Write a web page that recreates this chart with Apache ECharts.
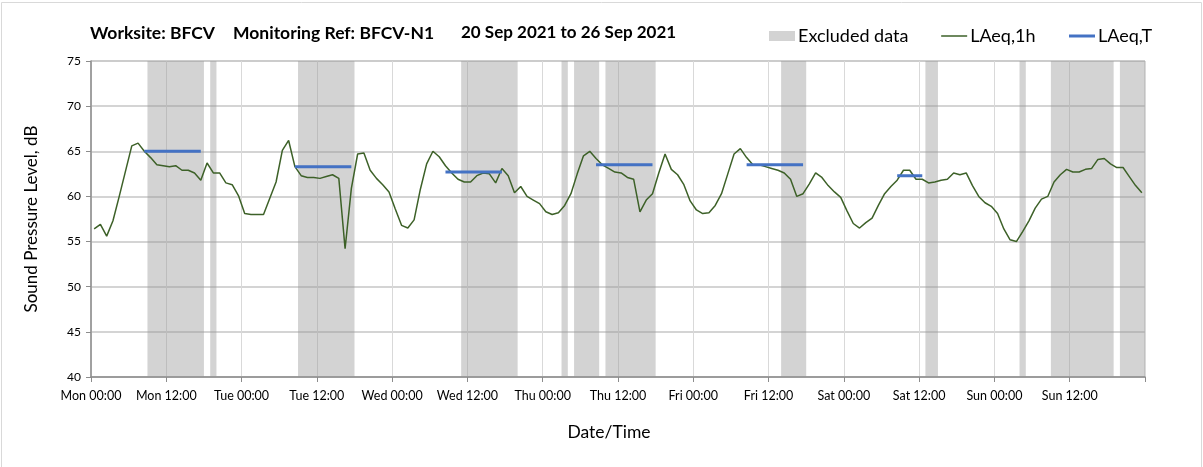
<!DOCTYPE html>
<html>
<head>
<meta charset="utf-8">
<script src="https://cdn.jsdelivr.net/npm/echarts@6/dist/echarts.min.js"></script>
<style>
  html, body { margin: 0; padding: 0; background: #fff; }
  #chart { width: 1203px; height: 467px; }
</style>
</head>
<body>
<div id="chart"></div>
<script>
// hour-of-week tick labels (every 12 h from Mon 00:00)
const tickLabels = ['Mon 00:00', 'Mon 12:00', 'Tue 00:00', 'Tue 12:00', 'Wed 00:00', 'Wed 12:00',
  'Thu 00:00', 'Thu 12:00', 'Fri 00:00', 'Fri 12:00', 'Sat 00:00', 'Sat 12:00', 'Sun 00:00', 'Sun 12:00']

// hourly LAeq,1h, one value per hour from Mon 00:00 (168 values)
const laeq1h = [
  56.4, 56.9, 55.6, 57.3, 60.0, 62.8, 65.6, 65.9, 65.0, 64.3, 63.5, 63.4,
  63.3, 63.4, 62.9, 62.9, 62.6, 61.8, 63.7, 62.6, 62.6, 61.5, 61.3, 60.1,
  58.1, 58.0, 58.0, 58.0, 59.8, 61.6, 65.1, 66.2, 63.3, 62.3, 62.1, 62.1,
  62.0, 62.2, 62.4, 62.0, 54.2, 60.9, 64.7, 64.8, 62.9, 62.0, 61.3, 60.5,
  58.6, 56.8, 56.5, 57.4, 60.8, 63.6, 65.0, 64.4, 63.4, 62.6, 61.9, 61.6,
  61.6, 62.3, 62.6, 62.5, 61.5, 63.1, 62.3, 60.4, 61.1, 60.0, 59.6, 59.2,
  58.3, 58.0, 58.2, 59.0, 60.3, 62.5, 64.5, 65.0, 64.2, 63.5, 63.1, 62.7,
  62.6, 62.1, 61.9, 58.3, 59.6, 60.3, 62.6, 64.7, 63.0, 62.4, 61.3, 59.5,
  58.5, 58.1, 58.2, 59.0, 60.3, 62.5, 64.7, 65.3, 64.3, 63.5, 63.5, 63.3,
  63.1, 62.9, 62.6, 61.9, 60.0, 60.3, 61.4, 62.6, 62.1, 61.2, 60.5, 59.9,
  58.4, 57.0, 56.5, 57.1, 57.6, 59.0, 60.3, 61.1, 61.8, 62.9, 62.9, 61.9,
  61.9, 61.5, 61.6, 61.8, 61.9, 62.6, 62.4, 62.6, 61.2, 60.0, 59.3, 58.9,
  58.1, 56.4, 55.2, 55.0, 56.1, 57.3, 58.7, 59.7, 60.0, 61.6, 62.4, 63.0,
  62.7, 62.7, 63.0, 63.1, 64.1, 64.2, 63.6, 63.2, 63.2, 62.2, 61.2, 60.4
]

// LAeq,T daytime periods (hour of week) and levels
const periodFrom = [8, 32, 56, 80, 104, 128]
const periodTo = [18, 42, 66, 90, 114, 133]
const periodLevel = [65.0, 63.3, 62.7, 63.5, 63.5, 62.3]

// excluded data periods (hour of week)
const exclFrom = [9, 19, 33, 59, 75, 77, 82, 110, 133, 148, 153, 164]
const exclTo = [18, 20, 42, 68, 76, 81, 90, 114, 135, 149, 163, 168]

const font = 'Lato, "Open Sans", sans-serif'
const titleStyle = { fontSize: 17.5, fontWeight: 'bold', color: '#000', fontFamily: font }

const hourlyData = laeq1h.map((v, i) => [i + 0.5, v])
const periodData = []
periodFrom.forEach((f, i) => {
  periodData.push([f + 0.5, periodLevel[i]])
  periodData.push([periodTo[i] - 0.5, periodLevel[i]])
  periodData.push([periodTo[i], '-'])
})
const exclData = exclFrom.map((f, i) => [f, exclTo[i]])

const chart = echarts.init(document.getElementById('chart'))
chart.setOption({
  animation: false,
  textStyle: { fontFamily: font },
  graphic: [{
    type: 'rect',
    shape: { x: 1.5, y: 2.5, width: 1200, height: 470 },
    style: { fill: 'none', stroke: '#d9d9d9', lineWidth: 1 },
    silent: true
  }],
  title: [
    { text: 'Worksite: BFCV', left: 90, top: 24, padding: 0, textStyle: titleStyle },
    { text: 'Monitoring Ref: BFCV-N1', left: 233, top: 24, padding: 0, textStyle: titleStyle },
    { text: '20 Sep 2021 to 26 Sep 2021', left: 461, top: 24, padding: 0, textStyle: Object.assign({}, titleStyle, { fontSize: 17 }) }
  ],
  legend: {
    left: 769,
    top: 27,
    padding: 0,
    itemWidth: 26,
    itemHeight: 10,
    itemGap: 32,
    textStyle: { fontSize: 18, color: '#000', fontFamily: font, padding: [0, 0, 0, -2] },
    data: [
      { name: 'Excluded data', icon: 'rect', itemStyle: { color: '#d3d3d3' } },
      { name: 'LAeq,1h', itemStyle: { opacity: 0 }, lineStyle: { width: 1.5, color: '#3d6128' } },
      { name: 'LAeq,T', itemStyle: { opacity: 0 }, lineStyle: { width: 3, color: '#4472c4' } }
    ]
  },
  grid: { left: 91, right: 58, top: 61, bottom: 90, show: true, borderColor: '#c0c0c0', borderWidth: 1 },
  xAxis: {
    type: 'value',
    min: 0,
    max: 168,
    interval: 12,
    name: 'Date/Time',
    nameLocation: 'middle',
    nameGap: 46,
    nameTextStyle: { fontSize: 17.5, color: '#000', fontFamily: font, padding: [0, 18, 0, 0] },
    axisLine: { lineStyle: { color: '#8c8c8c', width: 1.5 } },
    axisTick: { show: true, length: 5, lineStyle: { color: '#8c8c8c' } },
    axisLabel: {
      fontSize: 12.5,
      color: '#000',
      margin: 12,
      formatter: v => tickLabels[Math.round(v / 12)] || ''
    },
    splitLine: { show: true, lineStyle: { color: '#d9d9d9', width: 1 } }
  },
  yAxis: {
    type: 'value',
    min: 40,
    max: 75,
    interval: 5,
    name: 'Sound Pressure Level, dB',
    nameLocation: 'middle',
    nameGap: 51,
    nameRotate: 90,
    nameTextStyle: { fontSize: 17, color: '#000', fontFamily: font },
    axisLine: { show: true, lineStyle: { color: '#8c8c8c', width: 1.5 } },
    axisTick: { show: true, length: 5, lineStyle: { color: '#8c8c8c' } },
    axisLabel: { fontSize: 12, color: '#000', margin: 10 },
    splitLine: { show: true, lineStyle: { color: '#c6c6c6', width: 1.5 } }
  },
  series: [
    {
      name: 'Excluded data',
      type: 'custom',
      z: 1,
      data: exclData,
      encode: { x: [0, 1] },
      itemStyle: { color: 'rgba(150,150,150,0.42)' },
      renderItem: (params, api) => {
        const p0 = api.coord([api.value(0), 75])
        const p1 = api.coord([api.value(1), 40])
        return {
          type: 'rect',
          shape: { x: p0[0], y: p0[1], width: p1[0] - p0[0], height: p1[1] - p0[1] },
          style: { fill: 'rgba(150,150,150,0.42)' }
        }
      }
    },
    {
      name: 'LAeq,1h',
      type: 'line',
      z: 3,
      data: hourlyData,
      symbol: 'none',
      lineStyle: { color: '#3d6128', width: 1.5 },
      itemStyle: { color: '#3d6128' }
    },
    {
      name: 'LAeq,T',
      type: 'line',
      z: 4,
      data: periodData,
      symbol: 'none',
      connectNulls: false,
      lineStyle: { color: '#4472c4', width: 3 },
      itemStyle: { color: '#4472c4' }
    }
  ]
})
</script>
</body>
</html>
